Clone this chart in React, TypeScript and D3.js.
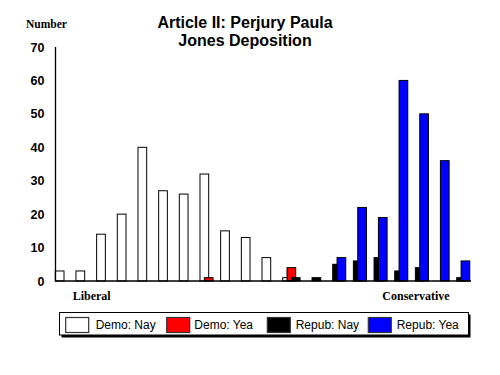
import React from "react";
import * as d3 from "d3";

const groups = d3.range(20);
const demoNay = [3, 3, 14, 20, 40, 27, 26, 32, 15, 13, 7, 1, 0, 0, 0, 0, 0, 0, 0, 0];
const demoYea = [0, 0, 0, 0, 0, 0, 0, 1, 0, 0, 0, 4, 0, 0, 0, 0, 0, 0, 0, 0];
const repubNay = [0, 0, 0, 0, 0, 0, 0, 0, 0, 0, 0, 1, 1, 5, 6, 7, 3, 4, 0, 1];
const repubYea = [0, 0, 0, 0, 0, 0, 0, 0, 0, 0, 0, 0, 0, 7, 22, 19, 60, 50, 36, 6];
const seriesNames = ["Demo: Nay", "Demo: Yea", "Repub: Nay", "Repub: Yea"];
const seriesColors = ["#ffffff", "#ff0000", "#000000", "#0000ff"];
const yTicks = [0, 10, 20, 30, 40, 50, 60, 70];
const titleLines = ["Article II: Perjury Paula", "Jones Deposition"];

export default function App() {
  const W = 500, H = 375;
  const x0 = 55.3, step = 20.67;
  const x = d3.scaleBand<number>().domain(groups).range([x0, x0 + step * 20]).padding(0);
  const y = d3.scaleLinear().domain([0, 70]).range([281, 47]);
  const barW = 8.7, off = 4.35;
  const series = [demoNay, demoYea, repubNay, repubYea];
  const sans = "Arial, 'Liberation Sans', Helvetica, sans-serif";
  const serif = "'Times New Roman', 'Liberation Serif', serif";

  const legendItems = [
    { sx: 65.7, tx: 95.7 },
    { sx: 166.7, tx: 194.3 },
    { sx: 267.3, tx: 295.7 },
    { sx: 368.3, tx: 396.7 },
  ];

  return (
    <svg width={W} height={H} style={{ position: "absolute", left: 0, top: 0, background: "#fff" }}>
      <rect x={0} y={0} width={W} height={H} fill="#fff" />
      {titleLines.map((t, i) => (
        <text key={i} x={245} y={28.3 + i * 17.7} textAnchor="middle" fontFamily={sans} fontWeight="bold" fontSize={16} fill="#000">
          {t}
        </text>
      ))}
      <text x={26} y={28} fontFamily={serif} fontWeight="bold" fontSize={11.5} fill="#000">Number</text>
      {yTicks.map((t) => (
        <text key={t} x={44.5} y={y(t)} dy="0.36em" textAnchor="end" fontFamily={sans} fontWeight="bold" fontSize={12.5} fill="#000">
          {t}
        </text>
      ))}
      {series.map((vals, j) =>
        vals.map((v, i) =>
          v > 0 ? (
            <rect
              key={`${j}-${i}`}
              x={(x(i) as number) + j * off}
              y={y(v)}
              width={barW}
              height={y(0) - y(v)}
              fill={seriesColors[j]}
              stroke="#000"
              strokeWidth={1}
            />
          ) : null
        )
      )}
      <line x1={55.5} x2={55.5} y1={47} y2={281} stroke="#000" strokeWidth={1.3} />
      <line x1={55} x2={471} y1={281} y2={281} stroke="#000" strokeWidth={1.3} />
      <text x={91.7} y={300} textAnchor="middle" fontFamily={serif} fontWeight="bold" fontSize={12} fill="#000">Liberal</text>
      <text x={416} y={300} textAnchor="middle" fontFamily={serif} fontWeight="bold" fontSize={12} fill="#000">Conservative</text>
      <rect x={61.5} y={314.5} width={409} height={23} fill="#000" />
      <rect x={59.5} y={312.5} width={409} height={22.5} fill="#fff" stroke="#000" strokeWidth={1} />
      {legendItems.map((it, j) => (
        <g key={j}>
          <rect x={it.sx} y={317.5} width={23} height={15} fill={seriesColors[j]} stroke="#333" strokeWidth={1.2} />
          <text x={it.tx} y={329.3} fontFamily={sans} fontSize={12} fill="#000">{seriesNames[j]}</text>
        </g>
      ))}
    </svg>
  );
}
